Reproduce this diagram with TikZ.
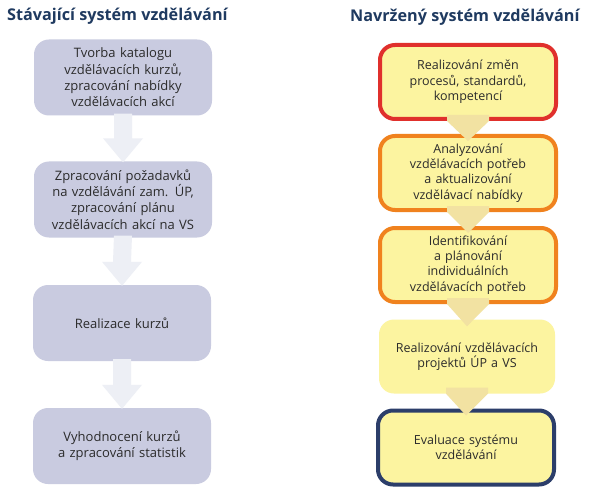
\documentclass[tikz,border=0pt]{standalone}
\usepackage{fontspec}
\setmainfont{Open Sans}
\usetikzlibrary{calc}
\definecolor{titleblue}{HTML}{1F3A60}
\definecolor{lavender}{HTML}{C9CBE0}
\definecolor{lightarrow}{HTML}{EDEFF5}
\definecolor{paleyellow}{HTML}{FCF4A0}
\definecolor{beige}{HTML}{F2E2A2}
\definecolor{redborder}{HTML}{E0302C}
\definecolor{orangeborder}{HTML}{F0821E}
\definecolor{navyborder}{HTML}{2C3E6A}
\definecolor{textgrey}{HTML}{2B2B2B}
\tikzset{
  titletext/.style={anchor=west, font=\fontsize{16.2}{19}\selectfont\bfseries, text=titleblue, inner sep=0pt},
  leftbox/.style={rounded corners=15pt, fill=lavender, minimum width=178pt, minimum height=76pt,
    text width=170pt, align=center, text=textgrey, font=\fontsize{13}{16.3}\selectfont, inner sep=0pt},
  rightbox/.style={rounded corners=15pt, fill=paleyellow, minimum width=176pt, minimum height=74pt,
    text width=168pt, align=center, text=textgrey, font=\fontsize{12.5}{15.3}\selectfont, inner sep=0pt},
  redbox/.style={rightbox, draw=redborder, line width=4pt},
  orangebox/.style={rightbox, draw=orangeborder, line width=4pt},
  navybox/.style={rightbox, draw=navyborder, line width=4pt},
  leftarrow/.style={fill=lightarrow},
  rightarrow/.style={fill=beige},
}
\begin{document}
\begin{tikzpicture}[x=1pt,y=-1pt]
\useasboundingbox[fill=white] (0,0) rectangle (591,497);

\node[titletext] (t1) at (7,16.5) {Stávající systém vzdělávání};
\node[titletext] (t2) at (350,17.5) {Navržený systém vzdělávání};

% left column
\node[leftbox] (l1) at (123,77.5) {Tvorba katalogu\\vzdělávacích kurzů,\\zpracování nabídky\\vzdělávacích akcí};
\node[leftbox] (l2) at (123,199.5) {Zpracování požadavků\\na vzdělávání zam. ÚP,\\zpracování plánu\\vzdělávacích akcí na VS};
\node[leftbox] (l3) at (122,323) {Realizace kurzů};
\node[leftbox] (l4) at (122,446) {Vyhodnocení kurzů\\a zpracování statistik};

\foreach \a/\b in {l1/l2,l2/l3,l3/l4}{
  \fill[leftarrow] ($(\a.south)+(-9,-2)$) -- ($(\a.south)+(9,-2)$)
     -- ($(\b.north)+(9,-23)$) -- ($(\b.north)+(20,-23)$) -- ($(\b.north)+(0,1)$)
     -- ($(\b.north)+(-20,-23)$) -- ($(\b.north)+(-9,-23)$) -- cycle;
}

% right column
\node[redbox] (r1) at (468,82) {Realizování změn\\procesů, standardů,\\kompetencí};
\node[orangebox] (r2) at (468,173) {Analyzování\\vzdělávacích potřeb\\a aktualizování\\vzdělávací nabídky};
\node[orangebox] (r3) at (468,265) {Identifikování\\a plánování\\individuálních\\vzdělávacích potřeb};
\node[rightbox] (r4) at (467,356.5) {Realizování vzdělávacích\\projektů ÚP a VS};
\node[navybox] (r5) at (466,447.5) {Evaluace systému\\vzdělávání};

\foreach \a/\b in {r1/r2,r2/r3,r3/r4,r4/r5}{
  \fill[rightarrow] ($(\a.south)+(-21,-6)$) -- ($(\a.south)+(21,-6)$) -- ($(\a.south)+(21,0)$)
     -- ($(\b.north)+(0,7)$) -- ($(\a.south)+(-21,0)$) -- cycle;
}
\end{tikzpicture}
\end{document}
